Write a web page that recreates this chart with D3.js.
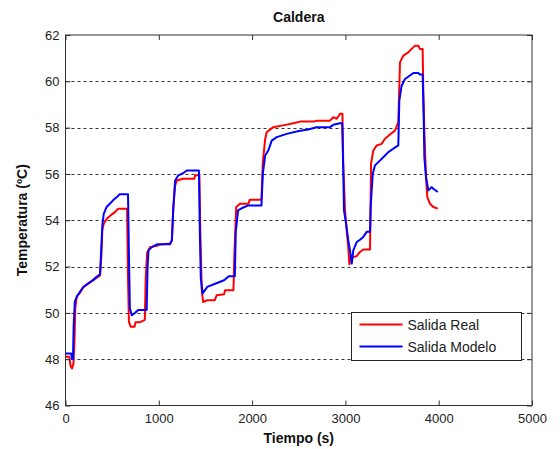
<!DOCTYPE html>
<html>
<head>
<meta charset="utf-8">
<script src="https://cdn.jsdelivr.net/npm/d3@7"></script>
<style>
  html, body { margin: 0; padding: 0; background: #fff; }
  svg { display: block; font-family: "Liberation Sans", Arial, sans-serif; }
</style>
</head>
<body>
<svg id="chart" width="560" height="449"></svg>
<script>
// Time axis (s) and temperature (ºC) for the real boiler output
const tiempoReal = [0, 40, 55, 70, 85, 95, 105, 120, 160, 190, 260, 300, 330, 370, 385, 395, 410, 440, 480, 530, 565, 660, 670, 680, 700, 740, 750, 800, 850, 860, 875, 905, 980, 1010, 1120, 1140, 1155, 1175, 1195, 1260, 1380, 1390, 1435, 1445, 1460, 1475, 1520, 1600, 1620, 1700, 1710, 1800, 1810, 1830, 1870, 1960, 1975, 2100, 2115, 2140, 2156, 2227, 2371, 2442, 2513, 2656, 2692, 2835, 2870, 2907, 2942, 2968, 2977, 2996, 3014, 3031, 3042, 3050, 3085, 3121, 3156, 3192, 3264, 3275, 3299, 3335, 3389, 3424, 3478, 3531, 3567, 3585, 3621, 3674, 3710, 3746, 3781, 3799, 3828, 3835, 3846, 3864, 3878, 3907, 3942, 3990];
const salidaReal = [48.1, 48.1, 47.7, 47.6, 47.8, 48.6, 50.2, 50.7, 50.9, 51.1, 51.3, 51.45, 51.5, 51.62, 52.5, 53.6, 53.85, 54.05, 54.2, 54.35, 54.5, 54.5, 51.5, 49.6, 49.4, 49.4, 49.6, 49.6, 49.7, 51.5, 52.6, 52.84, 52.9, 52.95, 53.0, 53.13, 54.5, 55.5, 55.72, 55.79, 55.79, 55.94, 55.94, 53.5, 51.0, 50.47, 50.55, 50.55, 50.76, 50.8, 50.98, 50.98, 52.5, 54.57, 54.71, 54.71, 54.89, 54.89, 56.5, 57.5, 57.8, 58.02, 58.13, 58.19, 58.26, 58.26, 58.3, 58.3, 58.45, 58.38, 58.6, 58.6, 56.44, 54.43, 53.56, 52.84, 52.1, 52.3, 52.41, 52.45, 52.63, 52.74, 52.74, 56.44, 57.01, 57.23, 57.3, 57.52, 57.7, 57.87, 58.23, 60.82, 61.11, 61.25, 61.4, 61.54, 61.54, 61.4, 61.4, 59.6, 57.87, 55.86, 55.0, 54.71, 54.57, 54.5];

// Time axis (s) and temperature (ºC) for the model output
const tiempoModelo = [0, 60, 70, 80, 88, 100, 130, 190, 240, 300, 330, 370, 380, 395, 410, 440, 475, 510, 550, 580, 670, 680, 690, 710, 745, 780, 870, 880, 890, 925, 980, 1120, 1140, 1155, 1175, 1210, 1260, 1300, 1430, 1440, 1450, 1470, 1520, 1610, 1700, 1750, 1815, 1825, 1850, 1900, 1960, 2100, 2115, 2140, 2173, 2210, 2264, 2371, 2500, 2600, 2692, 2835, 2870, 2942, 2966, 2977, 2985, 3007, 3031, 3049, 3068, 3085, 3121, 3156, 3192, 3228, 3264, 3271, 3293, 3317, 3353, 3406, 3460, 3513, 3567, 3578, 3603, 3639, 3692, 3728, 3781, 3799, 3828, 3840, 3846, 3864, 3889, 3925, 3942, 3990];
const salidaModelo = [48.25, 48.25, 48.0, 48.0, 49.5, 50.5, 50.76, 51.12, 51.27, 51.41, 51.55, 51.67, 52.5, 53.8, 54.28, 54.57, 54.71, 54.86, 55.0, 55.12, 55.12, 52.5, 50.2, 49.9, 50.0, 50.12, 50.12, 52.0, 52.7, 52.84, 52.96, 52.96, 53.13, 54.5, 55.72, 55.94, 56.03, 56.15, 56.15, 53.5, 51.5, 50.84, 51.12, 51.27, 51.41, 51.58, 51.58, 53.5, 54.43, 54.54, 54.64, 54.64, 56.0, 56.8, 57.01, 57.44, 57.59, 57.73, 57.85, 57.92, 58.02, 58.02, 58.12, 58.19, 58.19, 56.15, 54.43, 53.85, 53.13, 52.7, 52.13, 52.7, 53.06, 53.16, 53.28, 53.5, 53.5, 54.57, 56.01, 56.37, 56.51, 56.72, 56.94, 57.09, 57.23, 59.17, 59.81, 60.1, 60.25, 60.36, 60.36, 60.29, 60.29, 58.3, 56.72, 55.86, 55.29, 55.43, 55.36, 55.22];

const xTicks = [0, 1000, 2000, 3000, 4000, 5000];
const yTicks = [46, 48, 50, 52, 54, 56, 58, 60, 62];
const series = [
  { name: "Salida Real", t: tiempoReal, v: salidaReal, color: "#ff0000" },
  { name: "Salida Modelo", t: tiempoModelo, v: salidaModelo, color: "#0000ff" }
];

const svg = d3.select("#chart");
const m = { left: 65.5, right: 532, top: 35, bottom: 405.5 };

const x = d3.scaleLinear().domain([0, 5000]).range([m.left, m.right]);
const y = d3.scaleLinear().domain([46, 62]).range([m.bottom, m.top]);

// dashed horizontal grid
svg.append("g")
  .selectAll("line")
  .data(yTicks.filter(d => d > 46 && d < 62))
  .join("line")
  .attr("x1", m.left).attr("x2", m.right)
  .attr("y1", d => Math.round(y(d)) + 0.5).attr("y2", d => Math.round(y(d)) + 0.5)
  .attr("stroke", "#333").attr("stroke-width", 1)
  .attr("stroke-dasharray", "3,3");

// data lines
const line = d3.line().x(d => x(d[0])).y(d => y(d[1]));
svg.append("g").selectAll("path")
  .data(series)
  .join("path")
  .attr("d", s => line(s.t.map((t, i) => [t, s.v[i]])))
  .attr("fill", "none")
  .attr("stroke", s => s.color)
  .attr("stroke-width", 2)
  .attr("stroke-linejoin", "round");

// axes (ticks inward, MATLAB-style box)
const axisStyle = g => {
  g.select(".domain").remove();
  g.selectAll(".tick line").attr("stroke", "#333");
  g.selectAll(".tick text").attr("fill", "#222").attr("font-size", 13)
    .attr("font-family", "'Liberation Sans', Arial, sans-serif");
};
svg.append("g")
  .attr("transform", `translate(0,${m.bottom})`)
  .call(d3.axisBottom(x).tickValues(xTicks).tickFormat(d3.format("d")).tickSizeInner(-5).tickSizeOuter(0).tickPadding(8))
  .call(axisStyle);
svg.append("g")
  .attr("transform", `translate(0,${m.top})`)
  .call(d3.axisTop(x).tickValues(xTicks).tickFormat("").tickSizeInner(-5).tickSizeOuter(0))
  .call(axisStyle);
svg.append("g")
  .attr("transform", `translate(${m.left},0)`)
  .call(d3.axisLeft(y).tickValues(yTicks).tickFormat(d3.format("d")).tickSizeInner(-5).tickSizeOuter(0).tickPadding(6))
  .call(axisStyle);
svg.append("g")
  .attr("transform", `translate(${m.right},0)`)
  .call(d3.axisRight(y).tickValues(yTicks).tickFormat("").tickSizeInner(-5).tickSizeOuter(0))
  .call(axisStyle);

// frame
svg.append("rect")
  .attr("x", m.left).attr("y", m.top)
  .attr("width", m.right - m.left).attr("height", m.bottom - m.top)
  .attr("fill", "none").attr("stroke", "#333").attr("stroke-width", 1);

// title and axis labels
svg.append("text").attr("x", (m.left + m.right) / 2).attr("y", 22)
  .attr("text-anchor", "middle").attr("font-weight", "bold").attr("font-size", 14)
  .attr("fill", "#111").text("Caldera");
svg.append("text").attr("x", (m.left + m.right) / 2).attr("y", 443)
  .attr("text-anchor", "middle").attr("font-weight", "bold").attr("font-size", 14)
  .attr("fill", "#111").text("Tiempo (s)");
svg.append("text")
  .attr("transform", `translate(27,${(m.top + m.bottom) / 2}) rotate(-90)`)
  .attr("text-anchor", "middle").attr("font-weight", "bold").attr("font-size", 14)
  .attr("fill", "#111").text("Temperatura (ºC)");

// legend
const lg = svg.append("g").attr("transform", "translate(351.5,312.5)");
lg.append("rect").attr("width", 170).attr("height", 48)
  .attr("fill", "#fff").attr("stroke", "#222").attr("stroke-width", 1);
series.forEach((s, i) => {
  const cy = 12 + i * 22;
  lg.append("line").attr("x1", 8).attr("x2", 51).attr("y1", cy).attr("y2", cy)
    .attr("stroke", s.color).attr("stroke-width", 2);
  lg.append("text").attr("x", 56).attr("y", cy + 5)
    .attr("font-size", 14).attr("fill", "#222").text(s.name);
});
</script>
</body>
</html>
